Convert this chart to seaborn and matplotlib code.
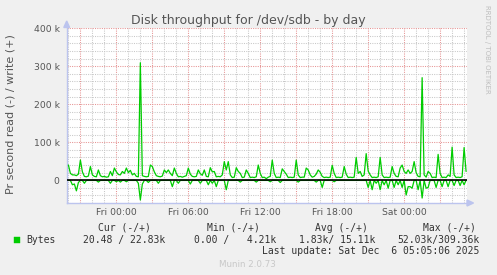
import numpy as np
import pandas as pd
import matplotlib
matplotlib.use("Agg")
import matplotlib.pyplot as plt
import matplotlib.dates as mdates
from matplotlib.ticker import FixedLocator, MultipleLocator, FuncFormatter
from matplotlib.patches import Polygon, Rectangle
import seaborn as sns

# ---------------- data (kB/s, 10-minute samples from Thu 20:00) ----------------
start_time = "2025-12-04 20:00"
step = "10min"
write_k = [
    40, 18, 14, 14, 12, 16, 53, 22, 10, 9, 11, 36, 14, 10, 9, 27, 12, 9, 10, 8,
    9, 23, 12, 32, 22, 15, 14, 23, 18, 32, 20, 26, 14, 18, 10, 9, 309.36, 12, 10, 9,
    10, 40, 36, 22, 12, 10, 9, 11, 27, 20, 27, 18, 12, 32, 18, 9, 10, 8, 10, 12,
    32, 16, 10, 9, 10, 27, 17, 13, 27, 10, 9, 33, 22, 23, 9, 10, 9, 14, 49, 27,
    49, 14, 7, 8, 33, 23, 18, 7, 8, 27, 18, 7, 8, 7, 9, 40, 18, 7, 8, 4.21,
    8, 10, 53, 18, 7, 8, 7, 30, 23, 16, 7, 8, 7, 8, 53, 14, 7, 8, 8, 32,
    27, 14, 8, 10, 16, 27, 21, 10, 7, 8, 7, 8, 39, 18, 7, 8, 7, 8, 36, 16,
    7, 8, 7, 8, 60, 18, 23, 10, 14, 70, 24, 14, 7, 8, 7, 9, 60, 14, 7, 8,
    7, 8, 36, 18, 10, 9, 32, 40, 23, 18, 27, 18, 23, 49, 20, 10, 9, 270, 14, 8,
    23, 18, 7, 8, 7, 68, 18, 7, 8, 7, 14, 10, 87, 14, 7, 8, 7, 9, 86, 22.83,
]
read_k = [
    0.5, 0.5, 12, 10, 28, 6, 0.5, 0.5, 8, 0.5, 0.5, 0.5, 0.5, 0.5, 0.5, 5, 0.5, 0.5, 0.5, 0.5,
    0.5, 8, 0.5, 0.5, 4, 0.5, 5, 0.5, 0.5, 4, 0.5, 0.5, 0.5, 0.5, 0.5, 8, 52.03, 10, 0.5, 0.5,
    6, 0.5, 0.5, 0.5, 0.5, 8, 0.5, 0.5, 0.5, 0.5, 0.5, 0.5, 17, 0.5, 0.5, 8, 0.5, 0.5, 0.5, 0.5,
    0.5, 10, 0.5, 0.5, 0.5, 0.5, 8, 0.5, 0.5, 0.5, 12, 0.5, 8, 0.5, 17, 0.5, 0.5, 0.5, 0.5, 25,
    0.5, 0.5, 0.5, 0.5, 0.5, 0.5, 5, 0.5, 0.5, 0.5, 0.5, 0.5, 0.5, 0.5, 5, 0.5, 0.5, 0.5, 0.5, 0.5,
    0.5, 4, 0.5, 0.5, 0.5, 0.5, 6, 0.5, 0.5, 0.5, 0.5, 0.5, 0.5, 0.5, 0.5, 5, 0.5, 0.5, 0.5, 0.5,
    0.5, 0.5, 0.5, 0.5, 5, 0.5, 0.5, 19, 0.5, 0.5, 0.5, 0.5, 0.5, 4, 0.5, 0.5, 0.5, 0.5, 0.5, 0.5,
    0.5, 0.5, 0.5, 0.5, 0.5, 0.5, 0.5, 0.5, 0.5, 0.5, 19, 0.5, 25, 0.5, 8, 0.5, 25, 0.5, 12, 0.5,
    21, 0.5, 0.5, 19, 0.5, 12, 0.5, 19, 0.5, 39, 17, 17, 21, 0.5, 0.5, 25, 0.5, 47, 0.5, 21,
    19, 0.5, 0.5, 0.5, 19, 0.5, 0.5, 17, 0.5, 0.5, 17, 0.5, 0.5, 14, 0.5, 0.5, 14, 0.5, 12, 0.02048,
]
y_tick_values = [0, 100000, 200000, 300000, 400000]
x_label_hours = [0, 6, 12, 18]

title = "Disk throughput for /dev/sdb - by day"
ylabel = "Pr second read (-) / write (+)"
legend_name = "Bytes"
legend_headers = ["Cur (-/+)", "Min (-/+)", "Avg (-/+)", "Max (-/+)"]
legend_values = ["20.48 / 22.83k", "0.00 /   4.21k", "1.83k/ 15.11k", "52.03k/309.36k"]
last_update = "Last update: Sat Dec  6 05:05:06 2025"
footer = "Munin 2.0.73"
side_text = "RRDTOOL / TOBI OETIKER"

GREEN = "#00CC00"
BG = "#F0F0F0"
MAJ = "#E69494"
MIN = "#C8C8C8"
AXC = "#BCC4EE"
TXT = "#555555"

# ---------------- figure ----------------
sns.set_style("white")
plt.rcParams["font.family"] = ["DejaVu Sans"]

W, H = 497, 275
fig = plt.figure(figsize=(W / 100, H / 100), dpi=100, facecolor=BG)


def fx(px):
    return px / W


def fy(py):
    return 1 - py / H


ax = fig.add_axes([fx(67), fy(203), (466.7 - 67) / W, (203 - 28.3) / H])
ax.set_facecolor("white")

times = pd.date_range(start_time, periods=len(write_k), freq=step)
df = pd.DataFrame({
    "time": times,
    "write": np.array(write_k) * 1000.0,
    "read": -np.array(read_k) * 1000.0,
})

sns.lineplot(data=df, x="time", y="write", color=GREEN, lw=0.9, ax=ax, zorder=3)
sns.lineplot(data=df, x="time", y="read", color=GREEN, lw=0.9, ax=ax, zorder=3)
ax.axhline(0, color="black", lw=1.2, zorder=4)

x0 = pd.Timestamp("2025-12-04 19:53")
x1 = pd.Timestamp("2025-12-06 05:13")
ax.set_xlim(x0, x1)
ax.set_ylim(-60000, 400000)

hours = pd.date_range("2025-12-04 20:00", "2025-12-06 05:00", freq="1h")
major_hours = [h for h in hours if h.hour % 3 == 0]
ax.xaxis.set_major_locator(FixedLocator(mdates.date2num(major_hours)))
ax.xaxis.set_minor_locator(FixedLocator(mdates.date2num(list(hours))))


def xfmt(v, pos):
    d = mdates.num2date(v)
    if d.hour in x_label_hours and d.minute == 0:
        return d.strftime("%a %H:%M")
    return ""


ax.xaxis.set_major_formatter(FuncFormatter(xfmt))
ax.yaxis.set_major_locator(FixedLocator(y_tick_values))
ax.yaxis.set_minor_locator(MultipleLocator(20000))
ax.yaxis.set_major_formatter(FuncFormatter(lambda v, p: "0" if v == 0 else f"{int(v / 1000)} k"))

ax.grid(which="major", color=MAJ, linestyle=(0, (1, 1.2)), lw=0.75)
ax.grid(which="minor", color=MIN, linestyle=(0, (1, 1.2)), lw=0.75)
ax.set_axisbelow(True)

ax.tick_params(axis="x", which="major", length=2.2, width=0.75, color=MAJ, pad=1.5,
               labelsize=6.7, labelcolor=TXT, direction="out")
ax.tick_params(axis="x", which="minor", length=1.5, width=0.6, color=MIN, direction="out")
ax.tick_params(axis="y", which="major", length=2.2, width=0.75, color=MAJ, pad=3.1,
               labelsize=6.7, labelcolor=TXT, direction="out")
ax.tick_params(axis="y", which="minor", length=1.5, width=0.6, color=MIN, direction="out")
ax.set_xlabel("")
ax.set_ylabel("")

for s in ["top", "right"]:
    ax.spines[s].set_visible(False)
for s in ["left", "bottom"]:
    ax.spines[s].set_color(AXC)
    ax.spines[s].set_linewidth(1.0)

# axis arrows
fig.patches.append(Polygon([(fx(63.8), fy(27.5)), (fx(69.6), fy(27.5)), (fx(66.7), fy(21))],
                           closed=True, transform=fig.transFigure, color=AXC, zorder=5))
fig.patches.append(Polygon([(fx(467), fy(200)), (fx(467), fy(206)), (fx(473.5), fy(203))],
                           closed=True, transform=fig.transFigure, color=AXC, zorder=5))

# texts
fig.text(fx(248.3), fy(24), title, ha="center", va="baseline", fontsize=9, color=TXT)
fig.text(fx(11), fy(114), ylabel, ha="center", va="center", rotation=90, fontsize=8, color=TXT)
fig.text(fx(487.5), fy(5), side_text, ha="center", va="top", rotation=-90, fontsize=5,
         color="#BEBEBE")

mono = dict(family="DejaVu Sans Mono", fontsize=7, color="#333333", va="baseline")
for xp, t in zip([98, 206.7, 315, 422.7], legend_headers):
    fig.text(fx(xp), fy(230.7), t, ha="left", **mono)
fig.patches.append(Rectangle((fx(14), fy(242.5)), 5.5 / W, 5.5 / H, transform=fig.transFigure,
                             facecolor=GREEN, edgecolor=GREEN, lw=0.3))
fig.text(fx(26), fy(242.7), legend_name, ha="left", **mono)
for xp, t in zip([83, 194, 299.3, 397.7], legend_values):
    fig.text(fx(xp), fy(242.7), t, ha="left", **mono)
fig.text(fx(261.7), fy(254), last_update, ha="left", **mono)
fig.text(fx(247.5), fy(266.7), footer, ha="center", va="baseline", fontsize=6.3, color="#C8C8C8")

fig.savefig("out.png", dpi=100, facecolor=BG)
